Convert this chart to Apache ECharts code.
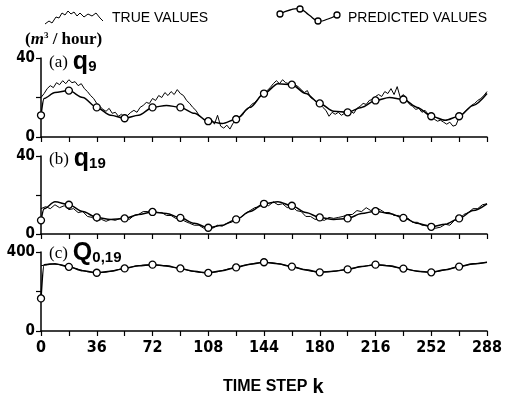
<!DOCTYPE html>
<html>
<head>
<meta charset="utf-8">
<script src="https://cdn.jsdelivr.net/npm/echarts@6/dist/echarts.min.js"></script>
<style>
  html, body { margin: 0; padding: 0; background: #fff; }
  #chart { width: 507px; height: 396px; }
</style>
</head>
<body>
<div id="chart"></div>
<script>
// 时间步 0..288
const kMax = 288;

// (a) q9 实测值，每 2 步一个
const trueStepA = 2;
const trueA = [
  20, 22, 24.5, 26, 25, 27.5, 26.5, 28.5, 27, 29,
  27.5, 28, 26, 27, 24.5, 23, 21, 19.5, 17, 15.5,
  14, 13, 14.5, 12, 12.5, 10.5, 11.5, 10, 11, 12.5,
  13.5, 12.5, 15, 16, 17.5, 17, 19.5, 18.5, 21, 20,
  22.5, 21, 23, 21.5, 24, 22, 21, 18.5, 17, 15,
  13.5, 11, 9.5, 8, 7.5, 9, 6.5, 11, 5.5, 4.5,
  6, 4, 7, 8.5, 10, 11, 13.5, 14.5, 16.5, 17.5,
  19, 21, 22, 23.5, 25, 27, 28.5, 27, 29, 27.5,
  27, 28, 26.5, 25.5, 24, 22.5, 23.5, 20, 19, 17.5,
  17, 15, 13.5, 10.5, 12.5, 11.5, 12.5, 11, 12, 11.5,
  13, 12, 14.5, 15.5, 17, 16.5, 18.5, 19, 20.5, 21.5,
  20.5, 23, 22, 24.5, 21.5, 25.5, 20, 21.5, 19, 16.5,
  15.5, 14, 14.5, 12.5, 13.5, 11.5, 11, 9, 8, 8.5,
  7.5, 6.5, 7.5, 5.5, 6, 10, 11.5, 13, 14.5, 16,
  17, 18.5, 19.5, 21, 23
];

// (b) q19 实测值，每 3 步一个
const trueStepB = 3;
const trueB = [
  13, 14, 13, 15, 13.5, 14.5, 12.5, 13, 11, 11.5,
  9, 8.5, 6.5, 7.5, 6.5, 7.5, 7, 8, 8.5, 7.5,
  9.5, 10, 11.5, 11.5, 12.5, 11, 11, 9.5, 9.5, 8,
  8, 6.5, 5.5, 4.5, 4.5, 3, 3.5, 3, 4.5, 4,
  5.5, 6, 7.5, 8.5, 10.5, 12, 13.5, 14, 15.5, 14.5,
  16.5, 15, 15.5, 13.5, 14.5, 12, 11.5, 9, 9, 7.5,
  7.5, 7, 8.5, 8, 8.5, 9, 10, 10, 12, 11.5,
  13.5, 12, 13.5, 12.5, 11, 11, 9.5, 9.5, 8, 8,
  6, 6, 4.5, 4.5, 3, 3, 3.5, 5, 4.5, 7,
  7.5, 10, 11, 13, 13, 15, 15.5
];

// (c) Q0,19 实测值，每 6 步一个
const trueStepC = 6;
const trueC = [
  330, 340, 336, 326, 312, 300, 294, 298, 308, 318,
  327, 334, 336, 332, 324, 316, 305, 297, 294, 300,
  312, 323, 334, 343, 348, 345, 336, 326, 314, 303,
  297, 300, 306, 313, 322, 330, 336, 333, 324, 316,
  307, 300, 297, 304, 315, 326, 335, 342, 348
];

// 预测值所在的时间步
const predK = [0, 2, 9, 18, 27, 36, 45, 54, 63, 72, 81, 90, 99, 108, 117, 126, 135,
  144, 153, 162, 171, 180, 189, 198, 207, 216, 225, 234, 243, 252, 261, 270, 279, 288];
const predA = [11, 19.5, 22.5, 23.5, 20, 15, 11, 9.5, 11, 15, 16, 15, 12, 8, 6.8, 9, 15,
  22, 27, 26.5, 22, 17, 13, 12.5, 15, 18.5, 20, 19, 15, 10.5, 8.5, 10.5, 16, 22];
const predB = [7, 13, 16.5, 15, 11.5, 8.5, 7.5, 8, 10, 11.3, 10.5, 8.3, 5.5, 3.2, 4.5, 7.5, 11.5,
  15.5, 16.5, 14.5, 11, 8.5, 7.5, 8, 10.5, 11.7, 10.5, 8.3, 5.5, 3.7, 5, 8, 12, 15.5];
const predC = [165, 335, 340, 325, 305, 295, 302, 317, 330, 336, 330, 317, 302, 294, 305, 322, 338,
  348, 340, 326, 310, 297, 302, 312, 326, 336, 330, 316, 303, 297, 310, 326, 340, 348];

// 坐标轴
const yMax = [40, 40, 400];
const yInterval = [20, 20, 200];
const xTickStep = 18;
const xLabelStep = 36;

const toPairs = (vals, step) => vals.map((v, i) => [i * step, v]);
const predPairs = vals => predK.map((k, i) => [k, vals[i]]);

const myChart = echarts.init(document.getElementById('chart'));

const grids = [
  { left: 41, right: 20, top: 58, height: 79 },
  { left: 41, right: 20, top: 156, height: 78 },
  { left: 41, right: 20, top: 252, height: 79 }
];

const numFont = {
  fontFamily: '"DejaVu Sans Condensed", "Liberation Sans Narrow", "Liberation Sans", sans-serif',
  fontWeight: 'bold',
  color: '#000'
};

const xAxes = grids.map((g, i) => ({
  type: 'value',
  gridIndex: i,
  min: 0,
  max: kMax,
  interval: xTickStep,
  axisLine: { lineStyle: { color: '#000', width: 1.5 } },
  axisTick: { length: 5, lineStyle: { color: '#000', width: 1.2 } },
  splitLine: { show: false },
  axisLabel: {
    show: i === 2,
    margin: 9,
    fontSize: 16,
    ...numFont,
    formatter: v => (v % xLabelStep === 0 ? String(v) : '')
  }
}));

const yAxes = grids.map((g, i) => ({
  type: 'value',
  gridIndex: i,
  min: 0,
  max: yMax[i],
  interval: yInterval[i],
  axisLine: { show: true, lineStyle: { color: '#000', width: 1.5 } },
  axisTick: { show: true, length: 5, lineStyle: { color: '#000', width: 1.2 } },
  splitLine: { show: false },
  axisLabel: {
    margin: 6,
    fontSize: 15,
    ...numFont,
    formatter: v => (v === yInterval[i] ? '' : String(v))
  }
}));

const trueSets = [toPairs(trueA, trueStepA), toPairs(trueB, trueStepB), toPairs(trueC, trueStepC)];
const predSets = [predPairs(predA), predPairs(predB), predPairs(predC)];

const series = [];
trueSets.forEach((d, i) => {
  series.push({
    name: 'TRUE VALUES',
    type: 'line',
    xAxisIndex: i,
    yAxisIndex: i,
    data: d,
    showSymbol: false,
    lineStyle: { color: '#000', width: 1 },
    z: 2
  });
});
predSets.forEach((d, i) => {
  series.push({
    name: 'PREDICTED VALUES',
    type: 'line',
    xAxisIndex: i,
    yAxisIndex: i,
    data: d,
    smooth: 0.3,
    smoothMonotone: 'x',
    showAllSymbol: true,
    symbol: v => (v[0] % xTickStep === 0 && v[0] < kMax ? 'circle' : 'none'),
    symbolSize: 7,
    itemStyle: { color: '#fff', borderColor: '#000', borderWidth: 1.3 },
    lineStyle: { color: '#000', width: 1.5 },
    z: 3
  });
});

// 面板标题
const serif = 'Liberation Serif';
const sans = 'Liberation Sans';
const panelRich = {
  p: { fontFamily: serif, fontSize: 17, fontWeight: 'normal', color: '#000' },
  q: { fontFamily: sans, fontSize: 25, fontWeight: 'bold', color: '#000' },
  s: { fontFamily: sans, fontSize: 15, fontWeight: 'bold', color: '#000', padding: [9, 0, 0, 0] }
};

const options = {
  animation: false,
  backgroundColor: '#fff',
  grid: grids,
  xAxis: xAxes,
  yAxis: yAxes,
  series: series,
  title: [
    {
      text: '{p|(}{m|m}{s|3}{p| / hour)}',
      left: 20, top: 26,
      textStyle: {
        rich: {
          p: { fontFamily: serif, fontSize: 17, fontWeight: 'bold', color: '#000' },
          m: { fontFamily: serif, fontSize: 17, fontStyle: 'italic', fontWeight: 'bold', color: '#000' },
          s: { fontFamily: serif, fontSize: 9, color: '#000', padding: [0, 0, 8, 0] }
        }
      }
    },
    { text: '{p|(a)} {q|q}{s|9}', left: 44, top: 45, textStyle: { rich: panelRich } },
    { text: '{p|(b)} {q|q}{s|19}', left: 44, top: 142, textStyle: { rich: panelRich } },
    { text: '{p|(c)} {q|Q}{s|0,19}', left: 44, top: 236, textStyle: { rich: panelRich } },
    {
      text: '{t|TIME STEP} {k|k}',
      left: 218, top: 372,
      textStyle: {
        rich: {
          t: { fontFamily: sans, fontSize: 16, fontWeight: 'bold', color: '#000' },
          k: { fontFamily: sans, fontSize: 20, fontWeight: 'bold', color: '#000' }
        }
      }
    }
  ],
  // 图例
  graphic: [
    {
      type: 'polyline',
      shape: { points: [[45, 24], [49, 21], [52, 23], [56, 17], [59, 18], [62, 13], [65, 15], [68, 11],
        [71, 14], [74, 12], [77, 16], [80, 13], [84, 17], [88, 14], [92, 16], [96, 13], [100, 18], [103, 21]] },
      style: { stroke: '#000', lineWidth: 1, fill: null }
    },
    {
      type: 'text', left: 112, top: 11,
      style: { text: 'TRUE VALUES', font: '14px "Liberation Sans"', fill: '#000' }
    },
    {
      type: 'polyline',
      shape: { points: [[280, 14], [290, 10], [300, 9], [309, 15], [318, 21], [328, 19], [337, 15]], smooth: 0.5 },
      style: { stroke: '#000', lineWidth: 1.3, fill: null }
    },
    { type: 'circle', shape: { cx: 280, cy: 14, r: 3 }, style: { fill: '#fff', stroke: '#000', lineWidth: 1.3 } },
    { type: 'circle', shape: { cx: 300, cy: 9, r: 3 }, style: { fill: '#fff', stroke: '#000', lineWidth: 1.3 } },
    { type: 'circle', shape: { cx: 318, cy: 21, r: 3 }, style: { fill: '#fff', stroke: '#000', lineWidth: 1.3 } },
    { type: 'circle', shape: { cx: 337, cy: 15, r: 3 }, style: { fill: '#fff', stroke: '#000', lineWidth: 1.3 } },
    {
      type: 'text', left: 348, top: 11,
      style: { text: 'PREDICTED VALUES', font: '14px "Liberation Sans"', fill: '#000' }
    }
  ]
};

myChart.setOption(options);
</script>
</body>
</html>
